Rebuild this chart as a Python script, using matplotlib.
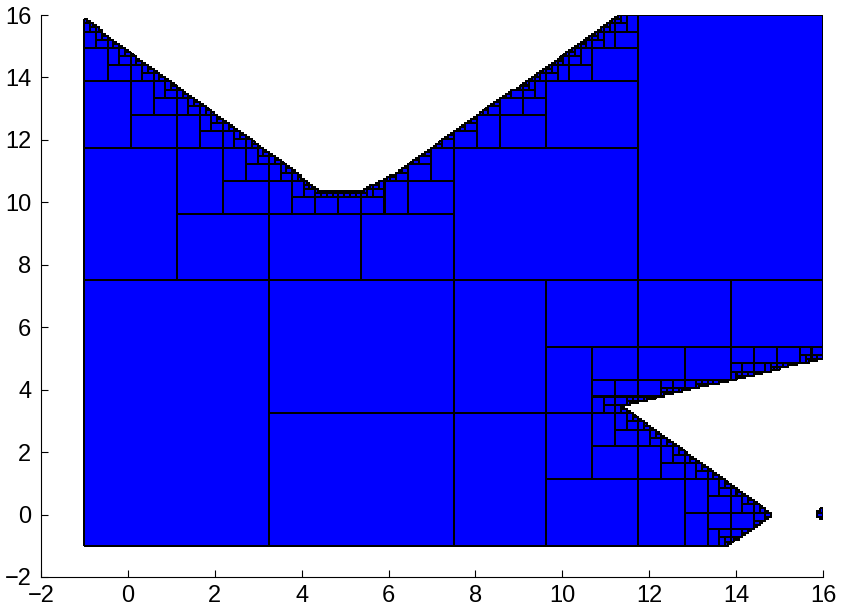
import math
import matplotlib
matplotlib.use("Agg")
import matplotlib.pyplot as plt
from matplotlib.collections import PolyCollection

# ---- problem data -------------------------------------------------------
# initial search box
x_range = [-1.0, 16.0]
y_range = [-1.0, 16.0]
min_width = 0.07          # boxes narrower than this are not bisected again

# forbidden zone A: everything above this convex chain
chain_a = [(-1.0, 15.94), (4.49, 10.37), (5.30, 10.37),
           (6.0, 10.85), (7.19, 12.0), (11.26, 16.0)]
# forbidden zone B1: wedge opening to the right
wedge_apex = (11.45, 3.48)
wedge_upper = (16.0, 4.95)
wedge_lower = (14.90, 0.0)
# forbidden zone B2: half-plane to the right of this line
cut_line = [(13.87, -1.0), (14.90, 0.0)]
# small feasible island inside zone B
island_center = (16.0, 0.02)
island_radius = 0.2

x_ticks = [-2, 0, 2, 4, 6, 8, 10, 12, 14, 16]
y_ticks = [-2, 0, 2, 4, 6, 8, 10, 12, 14, 16]


# ---- constraints --------------------------------------------------------
# Each forbidden zone is an intersection of half-planes; a half-plane is
# given by an oriented line (p, q) and means "left of p -> q".
def zone_a():
    return [(chain_a[i], chain_a[i + 1]) for i in range(len(chain_a) - 1)]


def zone_b1():
    return [(wedge_upper, wedge_apex), (wedge_apex, wedge_lower)]


def zone_b2():
    return [(cut_line[1], cut_line[0])]


ZONES = [zone_a(), zone_b1(), zone_b2()]


def corners(b):
    x0, x1, y0, y1 = b
    return [(x0, y0), (x1, y0), (x1, y1), (x0, y1)]


def side(p, q, c):
    return (q[0] - p[0]) * (c[1] - p[1]) - (q[1] - p[1]) * (c[0] - p[0])


def zone_excluded(b, zone):
    # the box is provably outside the zone if one half-plane misses it
    cs = corners(b)
    return any(all(side(p, q, c) <= 0 for c in cs) for (p, q) in zone)


def zone_contains(b, zone):
    cs = corners(b)
    return all(side(p, q, c) > 0 for (p, q) in zone for c in cs)


def in_island(b):
    return all(math.hypot(c[0] - island_center[0], c[1] - island_center[1])
               <= island_radius for c in corners(b))


def touches_island(b):
    x0, x1, y0, y1 = b
    cx = min(max(island_center[0], x0), x1)
    cy = min(max(island_center[1], y0), y1)
    return math.hypot(cx - island_center[0], cy - island_center[1]) < island_radius


def classify(b):
    """1: box proven feasible, 0: proven infeasible, -1: undecided."""
    if in_island(b):
        return 1
    if all(zone_excluded(b, z) for z in ZONES):
        return 1
    if any(zone_contains(b, z) for z in ZONES) and not touches_island(b):
        return 0
    return -1


# ---- paving -------------------------------------------------------------
feasible = []
stack = [(x_range[0], x_range[1], y_range[0], y_range[1])]
while stack:
    box = stack.pop()
    r = classify(box)
    if r == 1:
        feasible.append(box)
        continue
    if r == 0:
        continue
    x0, x1, y0, y1 = box
    wx, wy = x1 - x0, y1 - y0
    if max(wx, wy) < min_width:
        continue
    if wx >= wy:
        xm = 0.5 * (x0 + x1)
        stack.append((x0, xm, y0, y1))
        stack.append((xm, x1, y0, y1))
    else:
        ym = 0.5 * (y0 + y1)
        stack.append((x0, x1, y0, ym))
        stack.append((x0, x1, ym, y1))

# ---- drawing ------------------------------------------------------------
plt.rcParams["font.family"] = ["Liberation Sans", "DejaVu Sans"]
fig = plt.figure(figsize=(8.41, 6.08), dpi=100)
ax = fig.add_axes([0.04875, 0.051, 0.9299, 0.9243])

verts = [corners(b) for b in feasible]
# fills first, then all outlines on top so shared edges stay visible
ax.add_collection(PolyCollection(verts, facecolors="#0000ff", edgecolors="none",
                                 antialiased=False))
ax.add_collection(PolyCollection(verts, facecolors="none", edgecolors="black",
                                 linewidths=0.74, antialiased=False, snap=False))

ax.set_xlim(-2, 16)
ax.set_ylim(-2, 16)
ax.set_xticks(x_ticks)
ax.set_yticks(y_ticks)
ax.spines["top"].set_visible(False)
ax.spines["right"].set_visible(False)
ax.tick_params(direction="in", length=5, width=0.8, labelsize=17)
ax.tick_params(axis="y", pad=7)
ax.tick_params(axis="x", pad=6)

fig.savefig("out.png", dpi=100)
